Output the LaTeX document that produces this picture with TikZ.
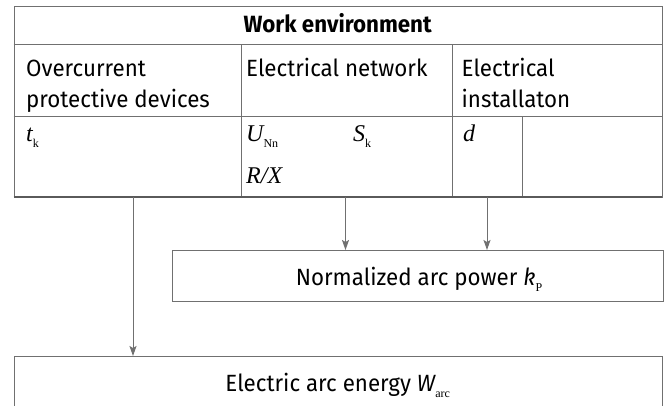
\documentclass[tikz,border=0pt]{standalone}
\usepackage{fontspec}
\setmainfont{Fira Sans}[FakeStretch=0.95]
\newfontfamily\varf{Liberation Serif}
\usetikzlibrary{arrows.meta}
\definecolor{linec}{RGB}{112,112,112}
\newcommand{\vv}[1]{{\varf\itshape\fontsize{24}{30}\selectfont #1}}
\newcommand{\vs}[1]{{\itshape #1}}
\newcommand{\sbs}[1]{\raisebox{-0.5ex}{\varf\fontsize{12}{12}\selectfont #1}}
\tikzset{
  box/.style={draw=linec, line width=1pt},
  txt/.style={inner sep=0pt, anchor=base west, font=\fontsize{23.5}{31}\selectfont},
  arr/.style={draw=linec, line width=1pt, -{Stealth[length=10pt,width=7pt,inset=2pt]}},
}
\begin{document}
\begin{tikzpicture}[x=1pt,y=-1pt]
\useasboundingbox (0,0) rectangle (665,405);
% table
\node[box, anchor=north west, minimum width=648.5pt, minimum height=191.3pt, inner sep=0pt] (tab) at (13.5,5.7) {};
\draw[box] (13.5,44.5) -- (662,44.5);
\draw[box] (13.5,116.5) -- (662,116.5);
\draw[box] (241,44.5) -- (241,197);
\draw[box] (452,44.5) -- (452,197);
\draw[box] (522,116.5) -- (522,197);
\draw[draw=linec!80!black, line width=2pt] (13.5,197) -- (662,197);
% texts of the table
\node[txt, anchor=base, font=\fontsize{23.5}{31}\selectfont\bfseries] (hdr) at (337.7,32) {Work environment};
\node[txt] (c1a) at (26,76) {Overcurrent};
\node[txt] (c1b) at (26,107) {protective devices};
\node[txt] (c2a) at (246,76) {Electrical network};
\node[txt] (c3a) at (461.5,76) {Electrical};
\node[txt] (c3b) at (461.5,107) {installaton};
\node[txt] (tk) at (26,141) {\vv{t}\sbs{k}};
\node[txt] (unn) at (246,141) {\vv{U}\sbs{Nn}};
\node[txt] (sk) at (353,141) {\vv{S}\sbs{k}};
\node[txt] (rx) at (246,183) {\vv{R/X}};
\node[txt] (dd) at (463,141) {\vv{d}};
% boxes
\node[box, anchor=north west, minimum width=490.2pt, minimum height=51pt, inner sep=0pt] (kp) at (172.3,250) {};
\node[txt, anchor=base] (kpt) at (419,285) {Normalized arc power \vs{k}\sbs{P}};
\node[box, anchor=north west, minimum width=648.5pt, minimum height=70pt, inner sep=0pt] (warc) at (13.5,356) {};
\node[txt, anchor=base] (warct) at (337.7,391) {Electric arc energy \vs{W}\sbs{arc}};
% arrows
\coordinate (a1) at (133,197);
\coordinate (a2) at (345.5,197);
\coordinate (a3) at (487,197);
\draw[arr] (a1) -- (a1 |- warc.north);
\draw[arr] (a2) -- (a2 |- kp.north);
\draw[arr] (a3) -- (a3 |- kp.north);
\end{tikzpicture}
\end{document}
